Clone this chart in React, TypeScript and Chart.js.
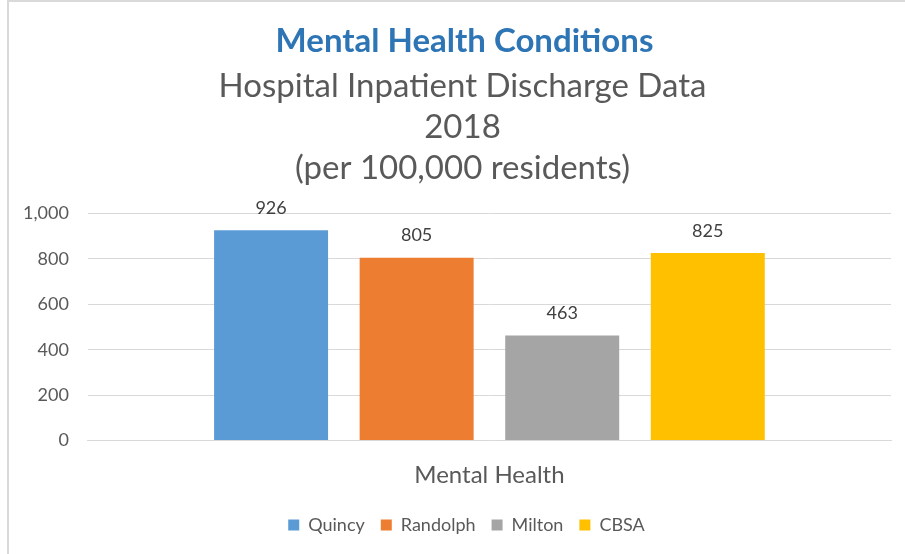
import React, { useEffect, useRef } from "react";
import { Chart, registerables } from "chart.js";

Chart.register(...registerables);

const categories = ["Mental Health"];
const seriesNames = ["Quincy", "Randolph", "Milton", "CBSA"];
const quincy = [926];
const randolph = [805];
const milton = [463];
const cbsa = [825];
const colors = ["#5B9BD5", "#ED7D31", "#A5A5A5", "#FFC000"];
const titleText = "Mental Health Conditions";
const subtitleLines = ["Hospital Inpatient Discharge Data", "2018", "(per 100,000 residents)"];

const FONT = "Lato, 'Open Sans', sans-serif";

const dataLabelPlugin = {
  id: "dataLabels",
  afterDatasetsDraw(chart: any) {
    const ctx = chart.ctx;
    ctx.save();
    ctx.font = `18px ${FONT}`;
    ctx.fillStyle = "#404040";
    ctx.textAlign = "center";
    ctx.textBaseline = "middle";
    chart.data.datasets.forEach((ds: any, i: number) => {
      const meta = chart.getDatasetMeta(i);
      meta.data.forEach((bar: any, j: number) => {
        const v = ds.data[j];
        ctx.fillText(Number(v).toLocaleString("en-US"), bar.x, bar.y - 22);
      });
    });
    ctx.restore();
  },
};

// Shift title / subtitle / legend horizontally to match the reference centering
const shiftPlugin = {
  id: "shiftBlocks",
  afterLayout(chart: any) {
    const shift = (b: any, d: number) => {
      if (!b) return;
      b.left += d;
      b.right += d;
    };
    shift(chart.titleBlock, 17);
    shift(chart.legend, 19);
    const sub = (chart.boxes || []).find(
      (b: any) => b !== chart.titleBlock && b !== chart.legend && b.options && Array.isArray(b.options.text)
    );
    shift(sub, 15);
  },
};

export default function App() {
  const ref = useRef<HTMLCanvasElement>(null);
  useEffect(() => {
    document.body.style.margin = "0";
    const values = [quincy, randolph, milton, cbsa];
    const chart = new Chart(ref.current!, {
      type: "bar",
      data: {
        labels: categories,
        datasets: seriesNames.map((name, i) => ({
          label: name,
          data: values[i],
          backgroundColor: colors[i],
          borderWidth: 0,
          categoryPercentage: 0.725,
          barPercentage: 0.783,
        })),
      },
      options: {
        responsive: false,
        animation: false,
        layout: { padding: { left: 4, right: 14, top: 0, bottom: 10 } },
        plugins: {
          title: {
            display: true,
            text: titleText,
            color: "#2E75B6",
            font: { family: FONT, size: 33, weight: "bold" },
            padding: { top: 22, bottom: 4 },
          },
          subtitle: {
            display: true,
            text: subtitleLines,
            color: "#595959",
            font: { family: FONT, size: 33, lineHeight: 1.25 },
            padding: { top: 0, bottom: 24 },
          },
          legend: {
            position: "bottom",
            labels: {
              boxWidth: 11,
              boxHeight: 11,
              color: "#595959",
              font: { family: FONT, size: 18 },
              padding: 16,
            },
          },
          tooltip: { enabled: false },
        },
        scales: {
          x: {
            grid: { display: false, drawTicks: false },
            border: { display: true, color: "#D9D9D9", width: 1 },
            afterFit: (s: any) => {
              s.height = s.height - 9;
            },
            ticks: {
              color: "#595959",
              font: { family: FONT, size: 24, lineHeight: 0.6 },
              padding: 27,
            },
          },
          y: {
            min: 0,
            max: 1000,
            grid: { color: "#D9D9D9", lineWidth: 1, drawTicks: false },
            border: { display: false },
            ticks: {
              stepSize: 200,
              color: "#595959",
              font: { family: FONT, size: 18 },
              padding: 19,
              callback: (v: any) => Number(v).toLocaleString("en-US"),
            },
          },
        },
      },
      plugins: [dataLabelPlugin, shiftPlugin],
    });
    return () => chart.destroy();
  }, []);
  return (
    <div style={{ position: "relative", width: 905, height: 554, background: "#fff" }}>
      <div
        style={{
          position: "absolute",
          left: 7,
          top: 0,
          width: 905 - 7,
          height: 554,
          borderLeft: "2px solid #D9D9D9",
          borderTop: "2px solid #D9D9D9",
          boxSizing: "border-box",
          pointerEvents: "none",
        }}
      />
      <canvas ref={ref} width={905} height={554} style={{ display: "block" }} />
    </div>
  );
}
